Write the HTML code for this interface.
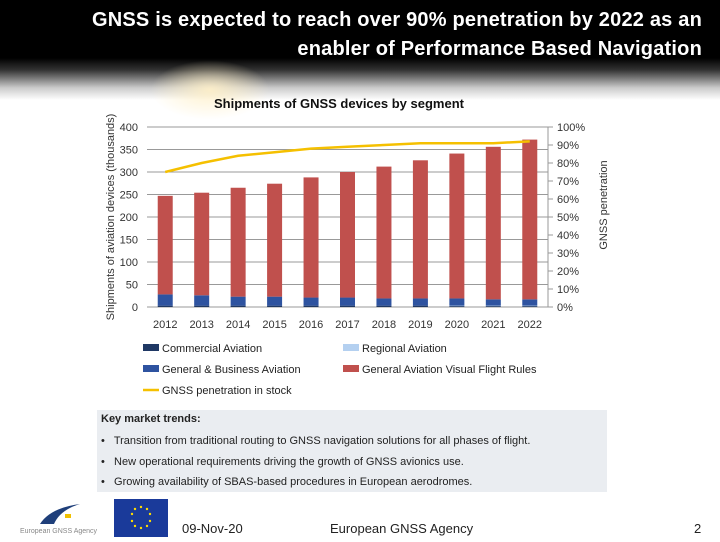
<!DOCTYPE html>
<html><head><meta charset="utf-8"><style>
body{margin:0;width:720px;height:540px;overflow:hidden;font-family:"Liberation Sans",sans-serif;background:#fff;position:relative}
#hdr{position:absolute;left:0;top:0;width:720px;height:100px;background:linear-gradient(#000 0,#000 58px,#333 70px,#ccc 88px,#fff 100px)}
#glow{position:absolute;left:150px;top:60px;width:120px;height:60px;background:radial-gradient(ellipse at center,rgba(255,240,200,0.9),rgba(255,255,255,0) 70%)}
#title{position:absolute;right:18px;top:6px;width:690px;text-align:right;color:#fff;font-size:20px;font-weight:bold;line-height:29px;letter-spacing:0.2px}
#kbox{position:absolute;left:97px;top:410px;width:510px;height:82px;background:#eaedf1;font-size:11px;color:#222}
</style></head><body>
<div id="hdr"></div>
<div id="glow"></div>
<div id="title">GNSS is expected to reach over 90% penetration by 2022 as an<br>enabler of Performance Based Navigation</div>
<svg id="chart" width="720" height="410" style="position:absolute;left:0;top:0"></svg>
<div id="kbox">
<div style="position:absolute;left:4px;top:3px;font-weight:bold">Key market trends:</div>
<div style="position:absolute;left:4px;top:25px">•&nbsp;&nbsp; Transition from traditional routing to GNSS navigation solutions for all phases of flight.</div>
<div style="position:absolute;left:4px;top:46px">•&nbsp;&nbsp; New operational requirements driving the growth of GNSS avionics use.</div>
<div style="position:absolute;left:4px;top:66px">•&nbsp;&nbsp; Growing availability of SBAS-based procedures in European aerodromes.</div>
</div>
<div style="position:absolute;left:20px;top:500px;width:80px;height:36px">
<svg width="80" height="36"><path d="M20 24 Q30 8 60 4 Q40 10 34 24 Z" fill="#1f3f7a"/><rect x="45" y="14" width="6" height="4" fill="#f0c000"/><text x="0" y="33" font-size="7" fill="#888" font-family="Liberation Sans">European GNSS Agency</text></svg></div>
<div style="position:absolute;left:114px;top:499px;width:54px;height:38px;background:#1a3a9a">
<svg width="54" height="38"><g fill="#ffdd00" font-size="6"><circle cx="27" cy="8" r="1.2"/><circle cx="33" cy="10" r="1.2"/><circle cx="36" cy="15" r="1.2"/><circle cx="36" cy="22" r="1.2"/><circle cx="33" cy="27" r="1.2"/><circle cx="27" cy="29" r="1.2"/><circle cx="21" cy="27" r="1.2"/><circle cx="18" cy="22" r="1.2"/><circle cx="18" cy="15" r="1.2"/><circle cx="21" cy="10" r="1.2"/></g></svg></div>
<div style="position:absolute;left:182px;top:521px;font-size:13px;color:#222">09-Nov-20</div>
<div style="position:absolute;left:330px;top:521px;font-size:13px;color:#222">European GNSS Agency</div>
<div style="position:absolute;left:694px;top:521px;font-size:13px;color:#222">2</div>
<script>
const years=["2012","2013","2014","2015","2016","2017","2018","2019","2020","2021","2022"];
const commercial=[3,3,3,3,3,3,3,3,2,2,2];
const regional=[0,0,0,0,0,0,0,0,1,1,1];
const business=[25,23,20,20,18,18,16,16,16,14,14];
const vfr=[219,228,242,251,267,279,293,307,322,339,355];
const penetration=[75,80,84,86,88,89,90,91,91,91,92];
const leftTicks=[0,50,100,150,200,250,300,350,400];
const rightTicks=[0,10,20,30,40,50,60,70,80,90,100];
const NS="http://www.w3.org/2000/svg",svg=document.getElementById('chart');
const x0=147,x1=548,yTop=127,yBot=307;
const y=v=>yBot-(v/400)*(yBot-yTop), yr=p=>yBot-(p/100)*(yBot-yTop);
const step=(x1-x0)/years.length, xc=i=>x0+step*(i+0.5), bw=15;
function mk(t,a,txt){const e=document.createElementNS(NS,t);for(const k in a)e.setAttribute(k,a[k]);if(txt!=null)e.textContent=txt;svg.appendChild(e);return e;}
let e=mk('text',{x:339,y:108,'text-anchor':'middle','font-size':13,'font-weight':'bold',fill:'#111'},'Shipments of GNSS devices by segment');


leftTicks.forEach(t=>{
 const g=mk('line',{x1:x0,x2:x1,y1:y(t),y2:y(t),stroke:'#999','stroke-width':1});
 
 
 const l=mk('text',{x:138,y:y(t)+4,'text-anchor':'end','font-size':11,fill:'#333'},t);
 
 
});
rightTicks.forEach(t=>{
 mk('line',{x1:x1,x2:x1+5,y1:yr(t),y2:yr(t),stroke:'#999'});
 const l=mk('text',{x:557,y:yr(t)+4,'font-size':11,fill:'#333'},t+'%');
 
 
});
mk('line',{x1:x1,x2:x1,y1:yTop,y2:yBot,stroke:'#999'});
e=mk('text',{transform:'translate(114,217) rotate(-90)','text-anchor':'middle','font-size':11,fill:'#333'},'Shipments of aviation devices (thousands)');


e=mk('text',{transform:'translate(607,205) rotate(-90)','text-anchor':'middle','font-size':11,fill:'#333'},'GNSS penetration');


years.forEach((yy,i)=>{
 const l=mk('text',{x:xc(i),y:328,'text-anchor':'middle','font-size':11,fill:'#333'},yy);
 
 
 let base=0;
 [[commercial,'#1f3864','bar-commercial'],[regional,'#b4d0f0','bar-regional'],[business,'#2e53a0','bar-business'],[vfr,'#c0504d','bar-vfr']].forEach(([arr,c,n])=>{
  const r=mk('rect',{x:xc(i)-bw/2,y:y(base+arr[i]),width:bw,height:y(base)-y(base+arr[i]),fill:c});
  
  
  base+=arr[i];
 });
});
const pl=mk('polyline',{points:penetration.map((p,i)=>xc(i)+','+yr(p)).join(' '),fill:'none',stroke:'#f5c000','stroke-width':2.5});


const leg=[['Commercial Aviation','#1f3864',143,348],['Regional Aviation','#b4d0f0',343,348],['General & Business Aviation','#2e53a0',143,369],['General Aviation Visual Flight Rules','#c0504d',343,369]];
leg.forEach(([t,c,lx,ly])=>{
 const r=mk('rect',{x:lx,y:ly-4,width:16,height:7,fill:c});
 
 
 const l=mk('text',{x:lx+19,y:ly+4,'font-size':11,fill:'#222'},t);
 
 
});
mk('line',{x1:143,x2:159,y1:390,y2:390,stroke:'#f5c000','stroke-width':2.5});
e=mk('text',{x:162,y:394,'font-size':11,fill:'#222'},'GNSS penetration in stock');


</script>
</body></html>
